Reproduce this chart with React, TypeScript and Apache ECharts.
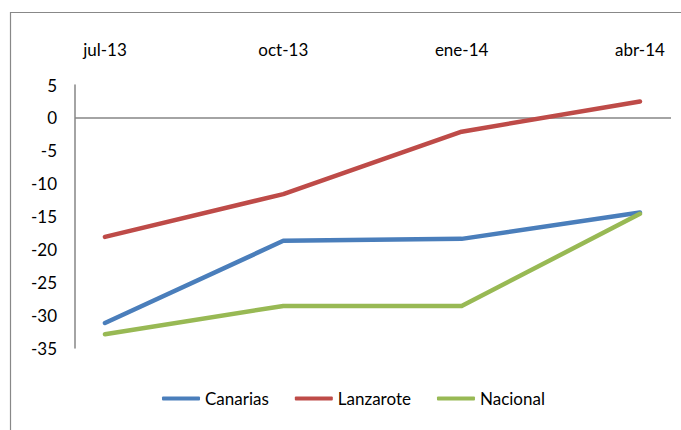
import React, { useEffect, useRef } from "react";
import * as echarts from "echarts";

const categories = ["jul-13", "oct-13", "ene-14", "abr-14"];
const canarias = [-31.2, -18.7, -18.4, -14.4];
const lanzarote = [-18.1, -11.6, -2.1, 2.5];
const nacional = [-32.9, -28.6, -28.6, -14.6];
const yTicks = [5, 0, -5, -10, -15, -20, -25, -30, -35];

const FONT = "Lato";

export default function App() {
  const ref = useRef<HTMLDivElement>(null);
  useEffect(() => {
    const chart = echarts.init(ref.current!, null, { renderer: "svg" });
    const toPts = (arr: number[]) => arr.map((v, i) => [i, v]);
    const mkSeries = (name: string, data: number[], color: string, extra: any = {}) => ({
      name,
      type: "line",
      data: toPts(data),
      symbol: "none",
      lineStyle: { color, width: 4.5, cap: "round", join: "round" },
      itemStyle: { color },
      ...extra,
    });
    chart.setOption({
      animation: false,
      backgroundColor: "#ffffff",
      graphic: [
        {
          type: "rect",
          shape: { x: 10.5, y: 12.5, width: 700, height: 450 },
          style: { fill: "none", stroke: "#888888", lineWidth: 1.2 },
          silent: true,
          z: 0,
        },
      ],
      grid: { left: 75, right: 10, top: 85, bottom: 82 },
      xAxis: {
        type: "value",
        position: "top",
        min: -0.168,
        max: 3.174,
        axisLine: { show: false },
        axisTick: { show: false },
        splitLine: { show: false },
        axisLabel: {
          customValues: [0, 1, 2, 3],
          formatter: (v: number) => categories[Math.round(v)] ?? "",
          color: "#000",
          fontFamily: FONT,
          fontSize: 17,
          margin: 27,
        },
      },
      yAxis: {
        type: "value",
        min: -35,
        max: 5,
        interval: 5,
        axisLine: { show: true, onZero: false, lineStyle: { color: "#868686", width: 1.5 } },
        axisTick: { show: false },
        splitLine: { show: false },
        axisLabel: {
          customValues: yTicks,
          color: "#000",
          fontFamily: FONT,
          fontSize: 17,
          margin: 18,
        },
      },
      legend: {
        bottom: 18,
        left: 157,
        itemWidth: 38,
        itemHeight: 4,
        itemGap: 26,
        icon: "roundRect",
        textStyle: { color: "#000", fontFamily: FONT, fontSize: 17 },
        data: ["Canarias", "Lanzarote", "Nacional"],
      },
      series: [
        mkSeries("Canarias", canarias, "#4A7EBB", {
          markLine: {
            silent: true,
            symbol: "none",
            label: { show: false },
            lineStyle: { color: "#868686", width: 1.5, type: "solid" },
            data: [{ yAxis: 0 }],
            z: 1,
          },
        }),
        mkSeries("Lanzarote", lanzarote, "#BE4B48"),
        mkSeries("Nacional", nacional, "#98B954"),
      ],
    });
    return () => chart.dispose();
  }, []);
  return (
    <div
      ref={ref}
      style={{ position: "fixed", left: 0, top: 0, width: 681, height: 430 }}
    />
  );
}
